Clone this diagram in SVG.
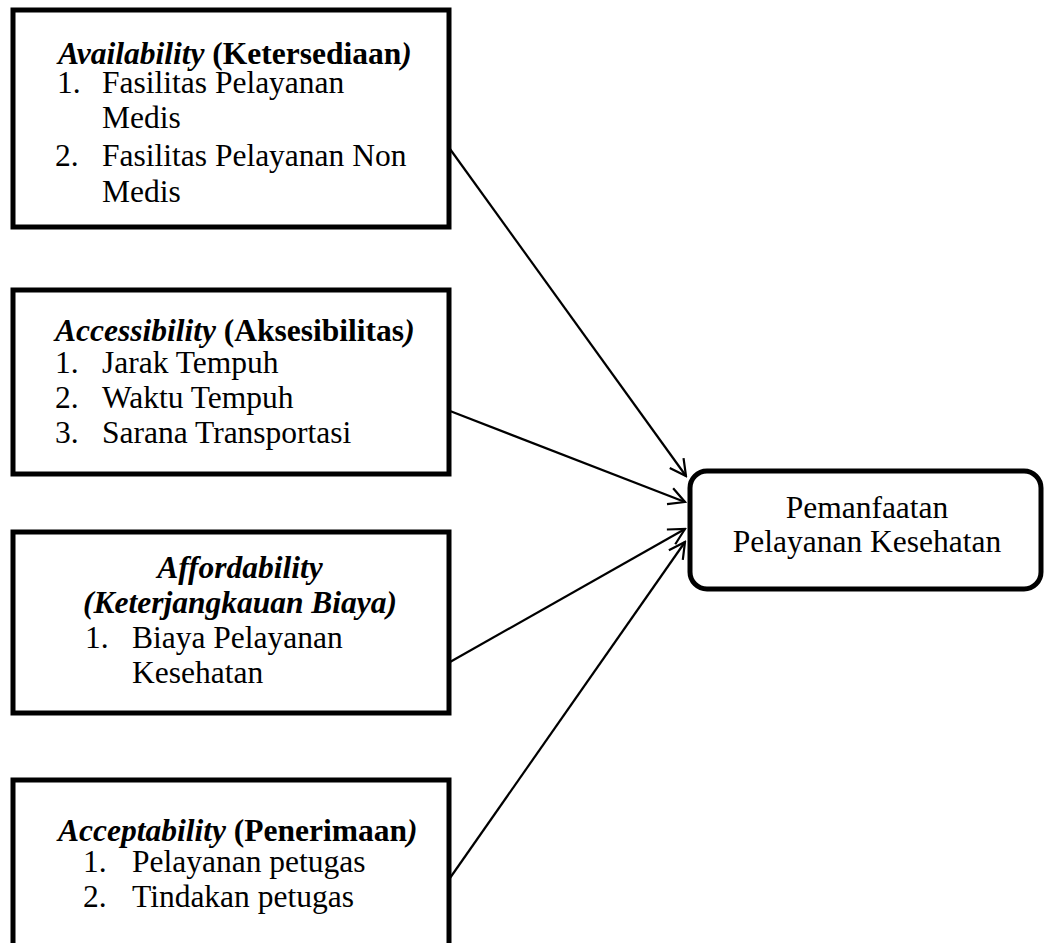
<svg xmlns="http://www.w3.org/2000/svg" width="1044" height="943" viewBox="0 0 1044 943">
<style>
.box{fill:#fff;stroke:#000;stroke-width:5}
.t{font-family:"Liberation Serif","Times New Roman",serif;font-size:31.5px;fill:#000}
.bi{font-weight:bold;font-style:italic}
.b{font-weight:bold}
.c{stroke:#000;stroke-width:2.2;fill:none}
</style>
<defs>
<marker id="arr" viewBox="0 0 20 20" refX="18" refY="10" markerWidth="20" markerHeight="20" markerUnits="userSpaceOnUse" orient="auto">
<path d="M2,1.5 L18,10 L2,18.5" fill="none" stroke="#000" stroke-width="2.2"/>
</marker>
</defs>
<rect width="1044" height="943" fill="#fff"/>
<g id="connectors">
<line class="c" x1="450" y1="149" x2="686" y2="476" marker-end="url(#arr)"/>
<line class="c" x1="450" y1="411" x2="685" y2="502" marker-end="url(#arr)"/>
<line class="c" x1="450" y1="662" x2="685" y2="529" marker-end="url(#arr)"/>
<line class="c" x1="450" y1="878" x2="685" y2="542" marker-end="url(#arr)"/>
</g>
<g id="availability">
<rect class="box" x="13" y="10" width="436" height="217"/>
<text class="t" x="58" y="64"><tspan class="bi">Availability </tspan><tspan class="b">(Ketersediaan</tspan><tspan class="bi">)</tspan></text>
<text class="t" x="57" y="93">1.</text><text class="t" x="102" y="93">Fasilitas Pelayanan</text>
<text class="t" x="102" y="128">Medis</text>
<text class="t" x="55" y="166">2.</text><text class="t" x="102" y="166">Fasilitas Pelayanan Non</text>
<text class="t" x="102" y="202">Medis</text>
</g>
<g id="accessibility">
<rect class="box" x="13" y="290" width="436" height="184"/>
<text class="t" x="55" y="341"><tspan class="bi">Accessibility </tspan><tspan class="b">(Aksesibilitas</tspan><tspan class="bi">)</tspan></text>
<text class="t" x="55" y="373">1.</text><text class="t" x="102" y="373">Jarak Tempuh</text>
<text class="t" x="55" y="408">2.</text><text class="t" x="102" y="408">Waktu Tempuh</text>
<text class="t" x="55" y="443">3.</text><text class="t" x="102" y="443">Sarana Transportasi</text>
</g>
<g id="affordability">
<rect class="box" x="13" y="532" width="436" height="181"/>
<text class="t bi" x="240" y="578" text-anchor="middle">Affordability</text>
<text class="t bi" x="240" y="613" text-anchor="middle">(Keterjangkauan Biaya)</text>
<text class="t" x="85" y="648">1.</text><text class="t" x="132" y="648">Biaya Pelayanan</text>
<text class="t" x="132" y="683">Kesehatan</text>
</g>
<g id="acceptability">
<rect class="box" x="13" y="780" width="436" height="200"/>
<text class="t" x="58" y="841"><tspan class="bi">Acceptability </tspan><tspan class="b">(Penerimaan</tspan><tspan class="bi">)</tspan></text>
<text class="t" x="83" y="872">1.</text><text class="t" x="132" y="872">Pelayanan petugas</text>
<text class="t" x="83" y="907">2.</text><text class="t" x="132" y="907">Tindakan petugas</text>
</g>
<g id="pemanfaatan">
<rect class="box" x="690" y="471" width="351" height="118" rx="17" ry="17"/>
<text class="t" x="867" y="518" text-anchor="middle">Pemanfaatan</text>
<text class="t" x="867" y="552" text-anchor="middle">Pelayanan Kesehatan</text>
</g>
</svg>
